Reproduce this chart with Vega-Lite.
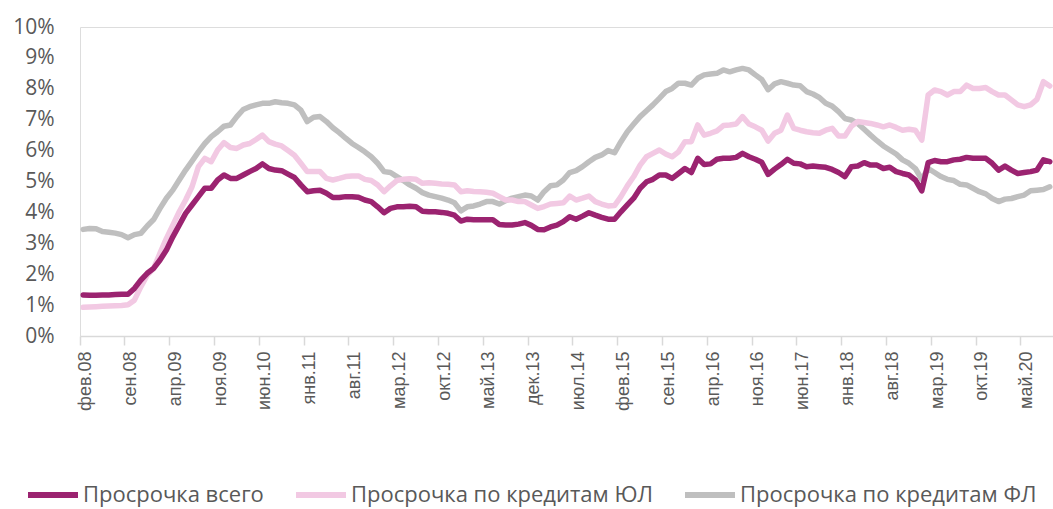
{
  "$schema": "https://vega.github.io/schema/vega-lite/v6.json",
  "autosize": {"type": "none"},
  "width": 973,
  "height": 309,
  "padding": {"left": 80, "top": 27, "right": 0, "bottom": 173},
  "background": "white",
  "data": {
    "values": [
      {"m":"фев.08","t":1.33,"u":0.93,"g":3.45},
      {"m":"мар.08","t":1.32,"u":0.94,"g":3.48},
      {"m":"апр.08","t":1.32,"u":0.95,"g":3.47},
      {"m":"май.08","t":1.33,"u":0.96,"g":3.38},
      {"m":"июн.08","t":1.33,"u":0.97,"g":3.36},
      {"m":"июл.08","t":1.34,"u":0.98,"g":3.33},
      {"m":"авг.08","t":1.35,"u":0.99,"g":3.28},
      {"m":"сен.08","t":1.35,"u":1.01,"g":3.18},
      {"m":"окт.08","t":1.54,"u":1.16,"g":3.28},
      {"m":"ноя.08","t":1.81,"u":1.59,"g":3.32},
      {"m":"дек.08","t":2.03,"u":1.97,"g":3.56},
      {"m":"янв.09","t":2.19,"u":2.19,"g":3.77},
      {"m":"фев.09","t":2.46,"u":2.68,"g":4.13},
      {"m":"мар.09","t":2.78,"u":3.16,"g":4.46},
      {"m":"апр.09","t":3.21,"u":3.59,"g":4.72},
      {"m":"май.09","t":3.59,"u":4.02,"g":5.05},
      {"m":"июн.09","t":3.97,"u":4.40,"g":5.37},
      {"m":"июл.09","t":4.24,"u":4.83,"g":5.66},
      {"m":"авг.09","t":4.51,"u":5.48,"g":5.96},
      {"m":"сен.09","t":4.78,"u":5.75,"g":6.23},
      {"m":"окт.09","t":4.78,"u":5.64,"g":6.45},
      {"m":"ноя.09","t":5.05,"u":6.02,"g":6.61},
      {"m":"дек.09","t":5.21,"u":6.26,"g":6.79},
      {"m":"янв.10","t":5.10,"u":6.10,"g":6.83},
      {"m":"фев.10","t":5.10,"u":6.07,"g":7.10},
      {"m":"мар.10","t":5.21,"u":6.18,"g":7.33},
      {"m":"апр.10","t":5.32,"u":6.23,"g":7.42},
      {"m":"май.10","t":5.42,"u":6.36,"g":7.48},
      {"m":"июн.10","t":5.57,"u":6.50,"g":7.53},
      {"m":"июл.10","t":5.42,"u":6.29,"g":7.53},
      {"m":"авг.10","t":5.37,"u":6.21,"g":7.58},
      {"m":"сен.10","t":5.35,"u":6.15,"g":7.55},
      {"m":"окт.10","t":5.24,"u":6.00,"g":7.53},
      {"m":"ноя.10","t":5.13,"u":5.85,"g":7.48},
      {"m":"дек.10","t":4.89,"u":5.59,"g":7.31},
      {"m":"янв.11","t":4.67,"u":5.32,"g":6.94},
      {"m":"фев.11","t":4.70,"u":5.32,"g":7.08},
      {"m":"мар.11","t":4.72,"u":5.32,"g":7.10},
      {"m":"апр.11","t":4.62,"u":5.10,"g":6.94},
      {"m":"май.11","t":4.48,"u":5.05,"g":6.74},
      {"m":"июн.11","t":4.48,"u":5.10,"g":6.58},
      {"m":"июл.11","t":4.51,"u":5.16,"g":6.40},
      {"m":"авг.11","t":4.51,"u":5.18,"g":6.23},
      {"m":"сен.11","t":4.49,"u":5.18,"g":6.10},
      {"m":"окт.11","t":4.40,"u":5.07,"g":5.96},
      {"m":"ноя.11","t":4.35,"u":5.03,"g":5.80},
      {"m":"дек.11","t":4.18,"u":4.89,"g":5.59},
      {"m":"янв.12","t":3.99,"u":4.67,"g":5.32},
      {"m":"фев.12","t":4.13,"u":4.86,"g":5.29},
      {"m":"мар.12","t":4.18,"u":5.03,"g":5.16},
      {"m":"апр.12","t":4.18,"u":5.07,"g":5.03},
      {"m":"май.12","t":4.20,"u":5.09,"g":4.89},
      {"m":"июн.12","t":4.18,"u":5.07,"g":4.78},
      {"m":"июл.12","t":4.04,"u":4.94,"g":4.64},
      {"m":"авг.12","t":4.02,"u":4.96,"g":4.56},
      {"m":"сен.12","t":4.02,"u":4.94,"g":4.51},
      {"m":"окт.12","t":4.00,"u":4.92,"g":4.46},
      {"m":"ноя.12","t":3.97,"u":4.91,"g":4.40},
      {"m":"дек.12","t":3.91,"u":4.89,"g":4.31},
      {"m":"янв.13","t":3.72,"u":4.67,"g":4.05},
      {"m":"фев.13","t":3.78,"u":4.70,"g":4.18},
      {"m":"мар.13","t":3.76,"u":4.68,"g":4.21},
      {"m":"апр.13","t":3.76,"u":4.67,"g":4.27},
      {"m":"май.13","t":3.76,"u":4.65,"g":4.35},
      {"m":"июн.13","t":3.76,"u":4.62,"g":4.35},
      {"m":"июл.13","t":3.61,"u":4.51,"g":4.27},
      {"m":"авг.13","t":3.59,"u":4.40,"g":4.38},
      {"m":"сен.13","t":3.59,"u":4.40,"g":4.46},
      {"m":"окт.13","t":3.62,"u":4.35,"g":4.51},
      {"m":"ноя.13","t":3.67,"u":4.35,"g":4.56},
      {"m":"дек.13","t":3.58,"u":4.24,"g":4.53},
      {"m":"янв.14","t":3.45,"u":4.13,"g":4.40},
      {"m":"фев.14","t":3.44,"u":4.19,"g":4.67},
      {"m":"мар.14","t":3.53,"u":4.27,"g":4.86},
      {"m":"апр.14","t":3.59,"u":4.29,"g":4.89},
      {"m":"май.14","t":3.70,"u":4.31,"g":5.05},
      {"m":"июн.14","t":3.86,"u":4.53,"g":5.29},
      {"m":"июл.14","t":3.78,"u":4.40,"g":5.35},
      {"m":"авг.14","t":3.88,"u":4.46,"g":5.48},
      {"m":"сен.14","t":3.99,"u":4.53,"g":5.64},
      {"m":"окт.14","t":3.91,"u":4.35,"g":5.78},
      {"m":"ноя.14","t":3.84,"u":4.27,"g":5.86},
      {"m":"дек.14","t":3.78,"u":4.21,"g":6.00},
      {"m":"янв.15","t":3.78,"u":4.22,"g":5.93},
      {"m":"фев.15","t":4.02,"u":4.51,"g":6.29},
      {"m":"мар.15","t":4.24,"u":4.86,"g":6.61},
      {"m":"апр.15","t":4.46,"u":5.16,"g":6.86},
      {"m":"май.15","t":4.78,"u":5.53,"g":7.10},
      {"m":"июн.15","t":4.99,"u":5.80,"g":7.29},
      {"m":"июл.15","t":5.07,"u":5.91,"g":7.48},
      {"m":"авг.15","t":5.21,"u":6.02,"g":7.69},
      {"m":"сен.15","t":5.21,"u":5.89,"g":7.91},
      {"m":"окт.15","t":5.10,"u":5.80,"g":8.01},
      {"m":"ноя.15","t":5.26,"u":5.96,"g":8.18},
      {"m":"дек.15","t":5.42,"u":6.29,"g":8.18},
      {"m":"янв.16","t":5.29,"u":6.29,"g":8.12},
      {"m":"фев.16","t":5.75,"u":6.83,"g":8.34},
      {"m":"мар.16","t":5.55,"u":6.50,"g":8.45},
      {"m":"апр.16","t":5.57,"u":6.56,"g":8.48},
      {"m":"май.16","t":5.72,"u":6.64,"g":8.50},
      {"m":"июн.16","t":5.75,"u":6.81,"g":8.61},
      {"m":"июл.16","t":5.75,"u":6.83,"g":8.55},
      {"m":"авг.16","t":5.78,"u":6.86,"g":8.61},
      {"m":"сен.16","t":5.91,"u":7.10,"g":8.66},
      {"m":"окт.16","t":5.80,"u":6.86,"g":8.61},
      {"m":"ноя.16","t":5.72,"u":6.77,"g":8.45},
      {"m":"дек.16","t":5.62,"u":6.66,"g":8.30},
      {"m":"янв.17","t":5.23,"u":6.31,"g":7.97},
      {"m":"фев.17","t":5.40,"u":6.56,"g":8.16},
      {"m":"мар.17","t":5.55,"u":6.66,"g":8.23},
      {"m":"апр.17","t":5.72,"u":7.15,"g":8.18},
      {"m":"май.17","t":5.59,"u":6.72,"g":8.12},
      {"m":"июн.17","t":5.57,"u":6.66,"g":8.10},
      {"m":"июл.17","t":5.48,"u":6.61,"g":7.91},
      {"m":"авг.17","t":5.50,"u":6.58,"g":7.83},
      {"m":"сен.17","t":5.48,"u":6.56,"g":7.72},
      {"m":"окт.17","t":5.46,"u":6.66,"g":7.53},
      {"m":"ноя.17","t":5.39,"u":6.72,"g":7.44},
      {"m":"дек.17","t":5.29,"u":6.47,"g":7.26},
      {"m":"янв.18","t":5.16,"u":6.47,"g":7.04},
      {"m":"фев.18","t":5.48,"u":6.79,"g":6.99},
      {"m":"мар.18","t":5.50,"u":6.94,"g":6.88},
      {"m":"апр.18","t":5.61,"u":6.91,"g":6.69},
      {"m":"май.18","t":5.53,"u":6.88,"g":6.50},
      {"m":"июн.18","t":5.53,"u":6.83,"g":6.32},
      {"m":"июл.18","t":5.42,"u":6.77,"g":6.15},
      {"m":"авг.18","t":5.46,"u":6.83,"g":6.02},
      {"m":"сен.18","t":5.32,"u":6.75,"g":5.89},
      {"m":"окт.18","t":5.26,"u":6.66,"g":5.70},
      {"m":"ноя.18","t":5.21,"u":6.69,"g":5.59},
      {"m":"дек.18","t":5.05,"u":6.66,"g":5.42},
      {"m":"янв.19","t":4.70,"u":6.34,"g":5.07},
      {"m":"фев.19","t":5.61,"u":7.80,"g":5.42},
      {"m":"мар.19","t":5.68,"u":7.96,"g":5.29},
      {"m":"апр.19","t":5.64,"u":7.91,"g":5.16},
      {"m":"май.19","t":5.64,"u":7.80,"g":5.07},
      {"m":"июн.19","t":5.70,"u":7.91,"g":5.03},
      {"m":"июл.19","t":5.72,"u":7.91,"g":4.91},
      {"m":"авг.19","t":5.78,"u":8.12,"g":4.89},
      {"m":"сен.19","t":5.75,"u":8.01,"g":4.78},
      {"m":"окт.19","t":5.75,"u":8.01,"g":4.67},
      {"m":"ноя.19","t":5.75,"u":8.04,"g":4.60},
      {"m":"дек.19","t":5.59,"u":7.91,"g":4.45},
      {"m":"янв.20","t":5.37,"u":7.80,"g":4.35},
      {"m":"фев.20","t":5.50,"u":7.80,"g":4.43},
      {"m":"мар.20","t":5.37,"u":7.64,"g":4.45},
      {"m":"апр.20","t":5.26,"u":7.48,"g":4.51},
      {"m":"май.20","t":5.29,"u":7.42,"g":4.56},
      {"m":"июн.20","t":5.32,"u":7.48,"g":4.70},
      {"m":"июл.20","t":5.37,"u":7.66,"g":4.72},
      {"m":"авг.20","t":5.70,"u":8.23,"g":4.74},
      {"m":"сен.20","t":5.64,"u":8.09,"g":4.83}
    ]
  },
  "transform": [{"fold": ["g", "u", "t"], "as": ["s", "v"]}],
  "mark": {"type": "line", "strokeWidth": 5.5, "strokeJoin": "round", "strokeCap": "round", "clip": false},
  "encoding": {
    "x": {
      "field": "m",
      "type": "ordinal",
      "sort": null,
      "bandPosition": 0.5,
      "scale": {"type": "band", "paddingInner": 0, "paddingOuter": 0},
      "axis": {
        "title": null,
        "values": ["фев.08","сен.08","апр.09","ноя.09","июн.10","янв.11","авг.11","мар.12","окт.12","май.13","дек.13","июл.14","фев.15","сен.15","апр.16","ноя.16","июн.17","янв.18","авг.18","мар.19","окт.19","май.20"],
        "bandPosition": 0,
        "labelOffset": 3,
        "labelAngle": 270,
        "labelAlign": "right",
        "labelBaseline": "middle",
        "labelFont": "Liberation Sans",
        "labelFontSize": 18,
        "labelColor": "#595959",
        "labelPadding": 6,
        "domainColor": "#D9D9D9",
        "domainWidth": 1.5,
        "tickColor": "#D9D9D9",
        "tickWidth": 1.5,
        "tickSize": 9,
        "grid": false
      }
    },
    "y": {
      "field": "v",
      "type": "quantitative",
      "scale": {"domain": [0, 10], "nice": false, "zero": true},
      "axis": {
        "title": null,
        "values": [0,1,2,3,4,5,6,7,8,9,10],
        "labelExpr": "datum.value + '%'",
        "domain": false,
        "ticks": false,
        "grid": false,
        "labelFont": "Open Sans",
        "labelFontSize": 21,
        "labelColor": "#595959",
        "labelPadding": 26
      }
    },
    "color": {
      "field": "s",
      "type": "nominal",
      "scale": {"domain": ["t", "u", "g"], "range": ["#9B2370", "#F2C9E3", "#BFBFBF"]},
      "legend": {
        "title": null,
        "orient": "none",
        "legendX": -55,
        "legendY": 440,
        "direction": "horizontal",
        "symbolType": "stroke",
        "symbolStrokeWidth": 6,
        "symbolSize": 2500,
        "labelExpr": "datum.label == 't' ? 'Просрочка всего' : datum.label == 'u' ? 'Просрочка по кредитам ЮЛ' : 'Просрочка по кредитам ФЛ'",
        "labelFont": "Open Sans",
        "labelFontSize": 22,
        "labelColor": "#595959",
        "labelOffset": 2,
        "columnPadding": 20,
        "labelLimit": 0
      }
    }
  }
}
